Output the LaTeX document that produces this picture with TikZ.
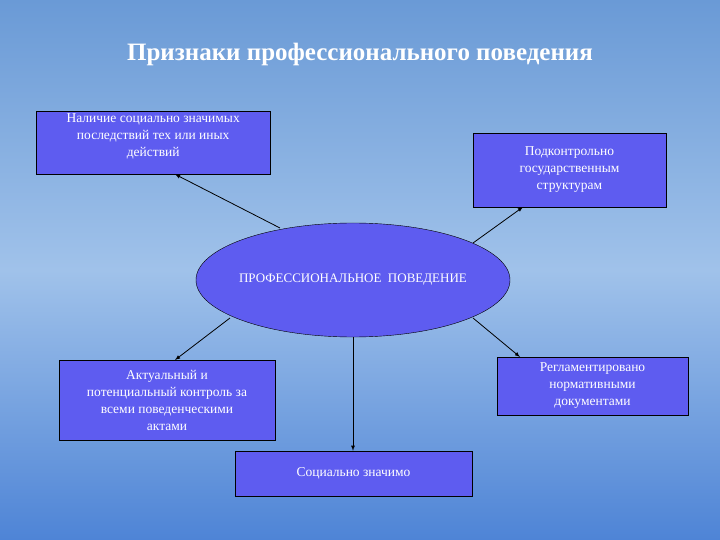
\documentclass[tikz,border=0pt]{standalone}
\usepackage{fontspec}
\setmainfont{Liberation Serif}
\usetikzlibrary{shapes.geometric}
\definecolor{boxc}{HTML}{5E5CF0}
\definecolor{skyA}{HTML}{6A9AD6}
\definecolor{skyB}{HTML}{A0C2EA}
\definecolor{skyC}{HTML}{4E84D6}
\begin{document}
\begin{tikzpicture}[x=1pt,y=-1pt,
  bx/.style={draw=black,fill=boxc,text=white,align=center,font=\fontsize{13.5}{17}\selectfont,inner sep=2pt},
  ar/.style={-latex,thick}]
\useasboundingbox (0,0) rectangle (720,540);
\shade[top color=skyA,bottom color=skyC,middle color=skyB] (0,0) rectangle (720,540);
\node[font=\bfseries\fontsize{25}{30}\selectfont,text=white] (title) at (360,54) {Признаки профессионального поведения};
\node[bx,minimum width=234,minimum height=62,anchor=north west,text depth=16] (tl) at (36,111) {Наличие социально значимых\\последствий тех или иных\\действий};
\node[bx,minimum width=193,minimum height=74] (tr) at (569.5,170) {Подконтрольно\\государственным\\структурам};
\filldraw[draw=black,fill=boxc] (353,280) ellipse (157 and 57);
\coordinate (cs) at (353,337);
\node[text=white,font=\fontsize{13}{16}\selectfont] (c) at (353,280) {ПРОФЕССИОНАЛЬНОЕ\ \ ПОВЕДЕНИЕ};
\node[bx,minimum width=216,minimum height=80] (bl) at (167,400) {Актуальный и\\потенциальный контроль за\\всеми поведенческими\\актами};
\node[bx,minimum width=191,minimum height=58] (br) at (592.5,386) {Регламентировано\\нормативными\\документами};
\node[bx,minimum width=237,minimum height=45] (bt) at (353.5,473.5) {Социально значимо};
\draw[ar] (280,228) -- (tl.south -| 175,0);
\draw[ar] (473,243) -- (523,207);
\draw[ar] (230,318) -- (175,360);
\draw[ar] (473,318) -- (520,357);
\draw[ar] (cs) -- (cs |- bt.north);
\end{tikzpicture}
\end{document}
